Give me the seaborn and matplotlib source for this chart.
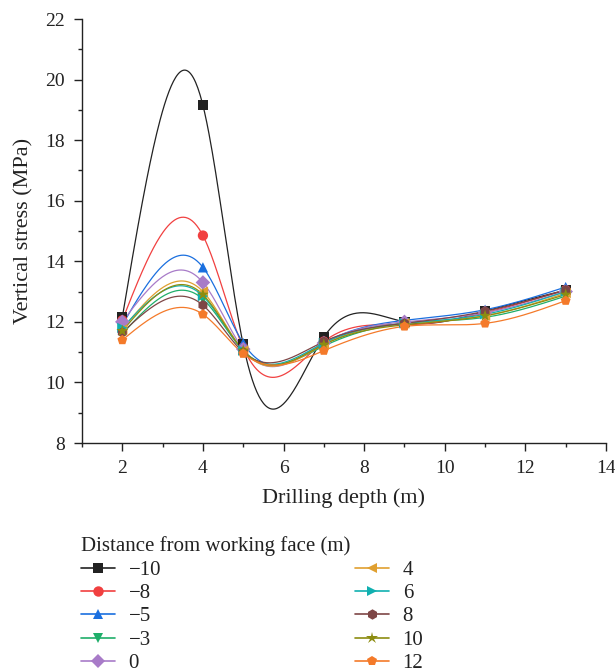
import numpy as np
import pandas as pd
import matplotlib
matplotlib.use("Agg")
import matplotlib.pyplot as plt
from matplotlib.lines import Line2D
from matplotlib.ticker import MultipleLocator
import seaborn as sns

sns.set_theme(style="white")
plt.rcParams['font.family'] = ['Liberation Serif', 'DejaVu Serif']

depth = [2, 4, 5, 7, 9, 11, 13]
series_names = ["\u221210", "\u22128", "\u22125", "\u22123", "0", "4", "6", "8", "10", "12"]
s_m10 = [12.15, 19.15, 11.25, 11.50, 12.00, 12.35, 13.05]
s_m8 = [12.05, 14.85, 11.15, 11.35, 11.90, 12.30, 13.05]
s_m5 = [11.90, 13.80, 11.30, 11.30, 12.05, 12.40, 13.15]
s_m3 = [11.60, 12.75, 11.05, 11.20, 11.95, 12.15, 12.85]
s_0 = [12.00, 13.30, 11.10, 11.30, 12.00, 12.30, 13.00]
s_4 = [11.75, 13.00, 11.05, 11.25, 11.95, 12.20, 12.95]
s_6 = [11.80, 12.85, 11.05, 11.30, 11.95, 12.25, 13.00]
s_8 = [11.65, 12.55, 11.00, 11.35, 11.95, 12.35, 13.05]
s_10 = [11.70, 12.90, 11.05, 11.25, 11.90, 12.20, 12.90]
s_12 = [11.40, 12.25, 10.95, 11.05, 11.85, 11.95, 12.70]
all_series = [s_m10, s_m8, s_m5, s_m3, s_0, s_4, s_6, s_8, s_10, s_12]

colors = ["#222222", "#F14040", "#1A6FDF", "#1FAE6A", "#A87BC8",
          "#E0A030", "#10B0B0", "#7E4646", "#8C8C10", "#F47A2A"]
markers = ["s", "o", "^", "v", "D", "<", ">", "h", "*", "p"]


def natural_spline(x, y, xs):
    x = np.asarray(x, float)
    y = np.asarray(y, float)
    n = len(x)
    h = np.diff(x)
    A = np.zeros((n, n))
    b = np.zeros(n)
    A[0, 0] = 1
    A[-1, -1] = 1
    for i in range(1, n - 1):
        A[i, i - 1] = h[i - 1]
        A[i, i] = 2 * (h[i - 1] + h[i])
        A[i, i + 1] = h[i]
        b[i] = 3 * ((y[i + 1] - y[i]) / h[i] - (y[i] - y[i - 1]) / h[i - 1])
    c = np.linalg.solve(A, b)
    out = np.empty_like(xs)
    for k, xv in enumerate(xs):
        i = min(max(np.searchsorted(x, xv) - 1, 0), n - 2)
        dx = xv - x[i]
        bi = (y[i + 1] - y[i]) / h[i] - h[i] * (2 * c[i] + c[i + 1]) / 3
        di = (c[i + 1] - c[i]) / (3 * h[i])
        out[k] = y[i] + bi * dx + c[i] * dx ** 2 + di * dx ** 3
    return out


fig = plt.figure(figsize=(6.15, 6.72), dpi=100)
ax = fig.add_axes([82 / 615, 1 - 443 / 672, (606 - 82) / 615, (443 - 19) / 672])

xs = np.linspace(2, 13, 400)
for name, vals, col, mk in zip(series_names, all_series, colors, markers):
    ys = natural_spline(depth, vals, xs)
    sns.lineplot(x=xs, y=ys, ax=ax, color=col, lw=0.9, legend=False, sort=False)
for name, vals, col, mk in zip(series_names, all_series, colors, markers):
    ms = 80 if mk == "*" else 55
    sns.scatterplot(x=depth, y=vals, ax=ax, color=col, marker=mk, s=ms,
                    edgecolor="none", legend=False, zorder=3)

ax.set_xlim(1, 14)
ax.set_ylim(8, 22)
ax.set_xticks(range(2, 15, 2))
ax.set_yticks(range(8, 23, 2))
ax.xaxis.set_minor_locator(MultipleLocator(1))
ax.yaxis.set_minor_locator(MultipleLocator(1))
for s in ["top", "right"]:
    ax.spines[s].set_visible(False)
for s in ["left", "bottom"]:
    ax.spines[s].set_color("#222222")
    ax.spines[s].set_linewidth(1.0)
ax.tick_params(axis="both", which="major", direction="out", length=5.5, width=1.0,
               color="#222222", labelsize=14, labelcolor="#222222", left=True,
               bottom=True, pad=7)
ax.tick_params(axis="both", which="minor", direction="out", length=3, width=1.0,
               color="#222222", left=True, bottom=True)
ax.set_xlabel("Drilling depth (m)", fontsize=16, color="#222222", labelpad=8)
ax.set_ylabel("Vertical stress (MPa)", fontsize=16, color="#222222", labelpad=8)

handles = []
for name, col, mk in zip(series_names, colors, markers):
    handles.append(Line2D([0], [0], color=col, lw=1.2, marker=mk,
                          markersize=9 if mk == "*" else 7.5, markeredgewidth=0,
                          label=name))
leg = fig.legend(handles=handles, loc="upper left", bbox_to_anchor=(66 / 615, 1 - 522 / 672),
                 ncol=2, frameon=False, fontsize=15, title="Distance from working face (m)",
                 title_fontsize=15, handlelength=1.65, labelspacing=0.18, columnspacing=9.3,
                 handletextpad=0.65, borderpad=0.2)
leg._legend_box.align = "left"
for t in leg.get_texts():
    t.set_color("#222222")
leg.get_title().set_color("#222222")

fig.savefig("out.png", dpi=100)
